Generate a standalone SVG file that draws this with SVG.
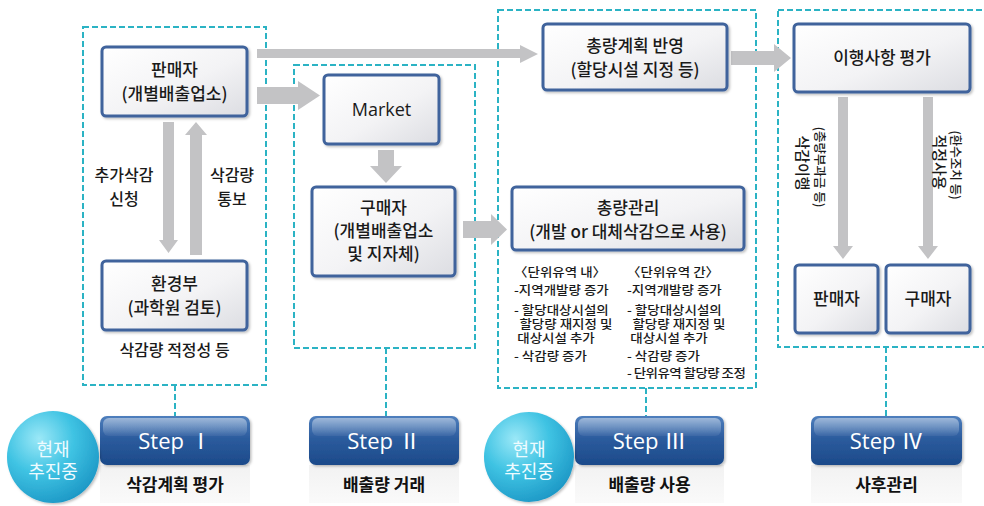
<svg xmlns="http://www.w3.org/2000/svg" width="984" height="506" viewBox="0 0 984 506">
<defs>
<linearGradient id="nodeFill" x1="0" y1="0" x2="1" y2="1">
<stop offset="0" stop-color="#ffffff"/><stop offset="0.55" stop-color="#f3f3f5"/><stop offset="1" stop-color="#dcdde2"/>
</linearGradient>
<linearGradient id="stepFill" x1="0" y1="0" x2="0" y2="1">
<stop offset="0" stop-color="#4f7fbd"/><stop offset="0.45" stop-color="#2c5c9e"/><stop offset="1" stop-color="#1c4a8a"/>
</linearGradient>
<linearGradient id="stepGloss" x1="0" y1="0" x2="0" y2="1">
<stop offset="0" stop-color="#ffffff" stop-opacity="0.45"/><stop offset="1" stop-color="#ffffff" stop-opacity="0.05"/>
</linearGradient>
<radialGradient id="circFill" cx="0.35" cy="0.3" r="0.75">
<stop offset="0" stop-color="#9be8f7"/><stop offset="0.5" stop-color="#3fc3e3"/><stop offset="1" stop-color="#1d98c6"/>
</radialGradient>
<linearGradient id="labFill" x1="0" y1="0" x2="0" y2="1">
<stop offset="0" stop-color="#f2f2f2"/><stop offset="1" stop-color="#fafafa"/>
</linearGradient>
<filter id="sh" x="-10%" y="-10%" width="130%" height="130%">
<feDropShadow dx="1.5" dy="1.5" stdDeviation="1.2" flood-color="#000" flood-opacity="0.25"/>
</filter>
</defs>
<style>
.grp{fill:none;stroke:#2bb3c4;stroke-width:2;stroke-dasharray:6 3}
.conn{stroke:#2bb3c4;stroke-width:2;stroke-dasharray:6 3;fill:none}
.node{fill:url(#nodeFill);stroke:#3f639c;stroke-width:3;filter:url(#sh)}
.arr{fill:#c3c3c5}
.t{font-family:"Noto Sans CJK KR","Noto Sans",sans-serif;fill:#1a1a1a;text-anchor:middle;font-weight:500}
.n{font-size:17px}
.lbl{font-size:16px}
.ls{font-family:"Noto Sans CJK KR",sans-serif;font-size:12.5px;fill:#1a1a1a;font-weight:500}
.step{fill:url(#stepFill);filter:url(#sh)}
.st{font-family:"Open Sans","Noto Sans CJK KR",sans-serif;font-size:22px;fill:#fff;text-anchor:middle}
.sl{font-family:"Noto Sans CJK KR",sans-serif;font-size:17px;font-weight:bold;fill:#111;text-anchor:middle}
.ct{font-family:"Noto Sans CJK KR",sans-serif;font-size:18px;fill:#eefbff;text-anchor:middle}
</style>
<rect width="984" height="506" fill="#ffffff"/>

<g id="groups">
<rect class="grp" x="83" y="27" width="183" height="358"/>
<rect class="grp" x="294" y="65" width="181" height="283"/>
<rect class="grp" x="498" y="10" width="258" height="378"/>
<rect class="grp" x="778" y="10" width="220" height="337"/>
</g>

<g id="connectors">
<line class="conn" x1="175" y1="385" x2="175" y2="417"/>
<line class="conn" x1="386" y1="348" x2="386" y2="417"/>
<line class="conn" x1="646" y1="388" x2="646" y2="417"/>
<line class="conn" x1="886" y1="347" x2="886" y2="417"/>
<polygon class="arr" points="257,49 520,49 520,45 538,54 520,63 520,58 257,58"/>
<polygon class="arr" points="257,87 298,87 298,81 320,95.5 298,110 298,104 257,104"/>
<polygon class="arr" points="378,150 394,150 394,166 402,166 386,183 370,166 378,166"/>
<polygon class="arr" points="463,221 491,221 491,214 507,229.5 491,245 491,238 463,238"/>
<polygon class="arr" points="731,51 774,51 774,44 791,58 774,72 774,65 731,65"/>
<polygon class="arr" points="163,122 174,122 174,240 178,240 168.5,253 159,240 163,240"/>
<polygon class="arr" points="190,255 202,255 202,135 207,135 196,122 185,135 190,135"/>
<polygon class="arr" points="838,97 848,97 848,246 853,246 843,259 833,246 838,246"/>
<polygon class="arr" points="923,97 933,97 933,246 938,246 928,259 918,246 923,246"/>
<text class="t lbl" x="124" y="181">추가삭감<tspan x="124" y="205">신청</tspan></text>
<text class="t lbl" x="232" y="181">삭감량<tspan x="232" y="205">통보</tspan></text>
<text class="t" font-size="12.5" transform="translate(820,167) rotate(90)" dy="4.6">(총량부과금 등)</text>
<text class="t" font-size="15" transform="translate(803,163) rotate(90)" dy="5.6">삭감이행</text>
<text class="t" font-size="12.5" transform="translate(956,165) rotate(90)" dy="4.6">(환수조치 등)</text>
<text class="t" font-size="15" transform="translate(940,162) rotate(90)" dy="5.6">적정사용</text>
</g>

<g id="seller">
<rect class="node" x="102" y="47" width="145" height="69" rx="4"/>
<text class="t n" x="174.5" y="76">판매자<tspan x="174.5" y="100">(개별배출업소)</tspan></text>
</g>
<g id="ministry">
<rect class="node" x="102" y="261" width="145" height="69" rx="4"/>
<text class="t n" x="174.5" y="290">환경부<tspan x="174.5" y="314">(과학원 검토)</tspan></text>
<text class="t lbl" x="174.5" y="356">삭감량 적정성 등</text>
</g>
<g id="market">
<rect class="node" x="324" y="75" width="115" height="69" rx="4"/>
<text class="t" font-size="18" x="381.5" y="116" style="font-family:'Open Sans',sans-serif">Market</text>
</g>
<g id="buyer">
<rect class="node" x="312" y="187" width="143" height="89" rx="4"/>
<text class="t n" x="383.5" y="214">구매자<tspan x="383.5" y="237">(개별배출업소</tspan><tspan x="383.5" y="260">및 지자체)</tspan></text>
</g>
<g id="totalplan">
<rect class="node" x="543" y="24" width="184" height="66" rx="4"/>
<text class="t n" x="635" y="52">총량계획 반영<tspan x="635" y="76">(할당시설 지정 등)</tspan></text>
</g>
<g id="totalmgmt">
<rect class="node" x="512" y="187" width="232" height="63" rx="4"/>
<text class="t n" x="628" y="214">총량관리<tspan x="628" y="238">(개발 or 대체삭감으로 사용)</tspan></text>
</g>
<g id="lists">
<text class="ls" transform="translate(514,0) scale(1.08,1)" x="0" y="277">〈단위유역 내〉<tspan x="0" y="295">-지역개발량 증가</tspan><tspan x="0" y="315">- 할당대상시설의</tspan><tspan x="5" y="329">할당량 재지정 및</tspan><tspan x="3" y="343">대상시설 추가</tspan><tspan x="0" y="361">- 삭감량 증가</tspan></text>
<text class="ls" transform="translate(627,0) scale(1.08,1)" x="0" y="277">〈단위유역 간〉<tspan x="0" y="295">-지역개발량 증가</tspan><tspan x="0" y="315">- 할당대상시설의</tspan><tspan x="5" y="329">할당량 재지정 및</tspan><tspan x="3" y="343">대상시설 추가</tspan><tspan x="0" y="361">- 삭감량 증가</tspan><tspan x="0" y="378" textLength="110" lengthAdjust="spacing">- 단위유역 할당량 조정</tspan></text>
</g>
<g id="evaluation">
<rect class="node" x="794" y="24" width="176" height="68" rx="4"/>
<text class="t n" x="882" y="64">이행사항 평가</text>
</g>
<g id="seller2">
<rect class="node" x="795" y="265" width="83" height="68" rx="4"/>
<text class="t n" x="836.5" y="305">판매자</text>
</g>
<g id="buyer2">
<rect class="node" x="886" y="265" width="84" height="68" rx="4"/>
<text class="t n" x="928" y="305">구매자</text>
</g>

<g id="step1">
<rect x="100" y="465" width="150" height="38" fill="url(#labFill)"/>
<rect class="step" x="100" y="416" width="150" height="49" rx="7"/>
<rect x="103" y="418" width="144" height="18" rx="6" fill="url(#stepGloss)"/>
<text class="st" x="175" y="449">Step Ⅰ</text>
<text class="sl" x="175" y="491">삭감계획 평가</text>
</g>
<g id="step2">
<rect x="309" y="465" width="150" height="38" fill="url(#labFill)"/>
<rect class="step" x="309" y="416" width="150" height="49" rx="7"/>
<rect x="312" y="418" width="144" height="18" rx="6" fill="url(#stepGloss)"/>
<text class="st" x="384" y="449">Step Ⅱ</text>
<text class="sl" x="384" y="491">배출량 거래</text>
</g>
<g id="step3">
<rect x="575" y="465" width="149" height="38" fill="url(#labFill)"/>
<rect class="step" x="575" y="416" width="149" height="49" rx="7"/>
<rect x="578" y="418" width="143" height="18" rx="6" fill="url(#stepGloss)"/>
<text class="st" x="649.5" y="449">Step Ⅲ</text>
<text class="sl" x="649.5" y="491">배출량 사용</text>
</g>
<g id="step4">
<rect x="811" y="465" width="151" height="38" fill="url(#labFill)"/>
<rect class="step" x="811" y="416" width="151" height="49" rx="7"/>
<rect x="814" y="418" width="145" height="18" rx="6" fill="url(#stepGloss)"/>
<text class="st" x="886.5" y="449">Step Ⅳ</text>
<text class="sl" x="886.5" y="491">사후관리</text>
</g>
<g id="now1">
<circle cx="53" cy="457" r="46" fill="url(#circFill)" filter="url(#sh)"/>
<text class="ct" x="53" y="456">현재<tspan x="53" y="478">추진중</tspan></text>
</g>
<g id="now2">
<circle cx="529" cy="457" r="45" fill="url(#circFill)" filter="url(#sh)"/>
<text class="ct" x="529" y="456">현재<tspan x="529" y="478">추진중</tspan></text>
</g>
</svg>
